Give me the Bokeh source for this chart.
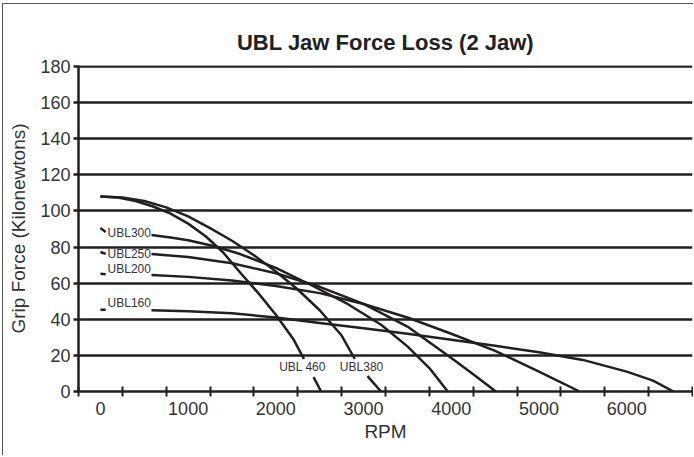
import math
from bokeh.plotting import figure
from bokeh.models import FixedTicker, Range1d
from bokeh.embed import file_html
from bokeh.resources import INLINE
from bokeh.core.properties import value

nan = math.nan

# axis ticks
rpm_tick_labels = [0, 1000, 2000, 3000, 4000, 5000, 6000]
rpm_tick_marks = [-250, 250, 750, 1250, 1750, 2250, 2750, 3250, 3750, 4250, 4750, 5250, 5750, 6250, 6750]
force_ticks = [0, 20, 40, 60, 80, 100, 120, 140, 160, 180]

# series (RPM, kN); nan marks where the line is broken for its label
ubl460_rpm = [0, 200, 400, 600, 800, 1000, 1200, 1400, 1600, 1800, 2000, 2200, 2320, 2380, 2430, 2516]
ubl460_kn = [108, 107.5, 105.5, 102.5, 98.5, 93, 86, 77, 65.5, 54.5, 42.5, 29, 18, nan, 8, 0]

ubl380_rpm = [0, 250, 500, 750, 1000, 1250, 1500, 1750, 2000, 2250, 2500, 2750, 2900, 2970, 3045, 3199]
ubl380_kn = [108, 107.5, 105.5, 102, 97, 90.5, 83.5, 75.5, 66.5, 56.5, 45, 31, 18, nan, 8.5, 0]

ubl300_rpm = [0, 60, 300, 582, 800, 1000, 1300, 1600, 2000, 2400, 2800, 3200, 3500, 3750, 3960]
ubl300_kn = [90.6, 88.4, nan, 86.7, 85.3, 83.8, 80.5, 76, 68.5, 59, 49, 37, 25, 13, 0]

ubl250_rpm = [0, 60, 300, 582, 1000, 1500, 2000, 2500, 3000, 3500, 4000, 4250, 4508]
ubl250_kn = [77.3, 76.2, nan, 76.2, 74.5, 71, 65.5, 58, 48.5, 36, 18.5, 9.5, 0]

ubl200_rpm = [0, 60, 300, 582, 1000, 1500, 2000, 2500, 3000, 3500, 4000, 4500, 5000, 5464]
ubl200_kn = [65.2, 65, nan, 64.6, 63.5, 61.5, 58.5, 54.5, 48.5, 41, 32, 22.5, 11, 0]

ubl160_rpm = [0, 60, 300, 582, 1000, 1500, 2000, 2500, 3000, 3500, 4000, 4500, 5000, 5500, 6000, 6300, 6533]
ubl160_kn = [45.3, 45.3, nan, 45, 44.5, 43.3, 41, 38, 35, 32, 28.7, 25.3, 21.8, 17.5, 11, 6, 0]

series_names = ["UBL 460", "UBL380", "UBL300", "UBL250", "UBL200", "UBL160"]
label_rpm = [2304, 2977, 81, 81, 81, 81]
label_kn = [13.8, 13.8, 87.8, 76.2, 67.9, 49.1]
label_align = ["center", "center", "left", "left", "left", "left"]

INK = "#231f20"
TXT = "#333333"
FONT = "Liberation Sans"

p = figure(width=691, height=452, output_backend="svg", toolbar_location=None,
           x_range=Range1d(-250, 6750), y_range=Range1d(0, 180.6),
           min_border_left=75, min_border_right=2, min_border_top=61, min_border_bottom=65,
           title="UBL Jaw Force Loss (2 Jaw)")
p.styles = {"margin-left": "2px", "margin-top": "3px",
            "border-left": "1px solid #555555", "border-top": "1px solid #555555"}
p.outline_line_color = None
p.background_fill_color = "white"
p.border_fill_color = "white"

p.title.align = "center"
p.title.text_font = FONT
p.title.text_font_size = "22px"
p.title.text_font_style = "bold"
p.title.text_color = "#222222"
p.title.standoff = 21

# x axis
p.xaxis.ticker = FixedTicker(ticks=rpm_tick_labels, minor_ticks=rpm_tick_marks)
p.xaxis.major_tick_in = 0
p.xaxis.major_tick_out = 0
p.xaxis.minor_tick_in = 5
p.xaxis.minor_tick_out = 5
p.xaxis.minor_tick_line_color = INK
p.xaxis.minor_tick_line_width = 2
p.xaxis.axis_line_color = INK
p.xaxis.axis_line_width = 2.5
p.xaxis.major_label_standoff = 5
p.xaxis.axis_label = "RPM"
p.xaxis.axis_label_standoff = 3

# y axis
p.yaxis.ticker = FixedTicker(ticks=force_ticks, minor_ticks=[])
p.yaxis.major_tick_in = 0
p.yaxis.major_tick_out = 5
p.yaxis.major_tick_line_color = INK
p.yaxis.major_tick_line_width = 2.5
p.yaxis.axis_line_color = INK
p.yaxis.axis_line_width = 2.5
p.yaxis.major_label_standoff = 3
p.yaxis.axis_label = "Grip Force (Kilonewtons)"
p.yaxis.axis_label_standoff = 8

for ax in (p.xaxis, p.yaxis):
    ax.major_label_text_font = FONT
    ax.major_label_text_font_size = "18px"
    ax.major_label_text_color = TXT
    ax.axis_label_text_font = FONT
    ax.axis_label_text_font_style = "normal"
    ax.axis_label_text_color = TXT
p.xaxis.axis_label_text_font_size = "19px"
p.yaxis.axis_label_text_font_size = "19px"

p.xgrid.grid_line_color = None
p.ygrid.ticker = FixedTicker(ticks=force_ticks[1:])
p.ygrid.grid_line_color = INK
p.ygrid.grid_line_width = 2.5

for xs, ys in [(ubl460_rpm, ubl460_kn), (ubl380_rpm, ubl380_kn), (ubl300_rpm, ubl300_kn),
               (ubl250_rpm, ubl250_kn), (ubl200_rpm, ubl200_kn), (ubl160_rpm, ubl160_kn)]:
    p.line(xs, ys, line_color=INK, line_width=2.5, line_join="round")

for name, lx, ly, al in zip(series_names, label_rpm, label_kn, label_align):
    p.text(x=[lx], y=[ly], text=[name], text_font=value(FONT), text_font_size="12px",
           text_color=TXT, text_align=al, text_baseline="middle")

open("out.html", "w").write(file_html(p, INLINE))
